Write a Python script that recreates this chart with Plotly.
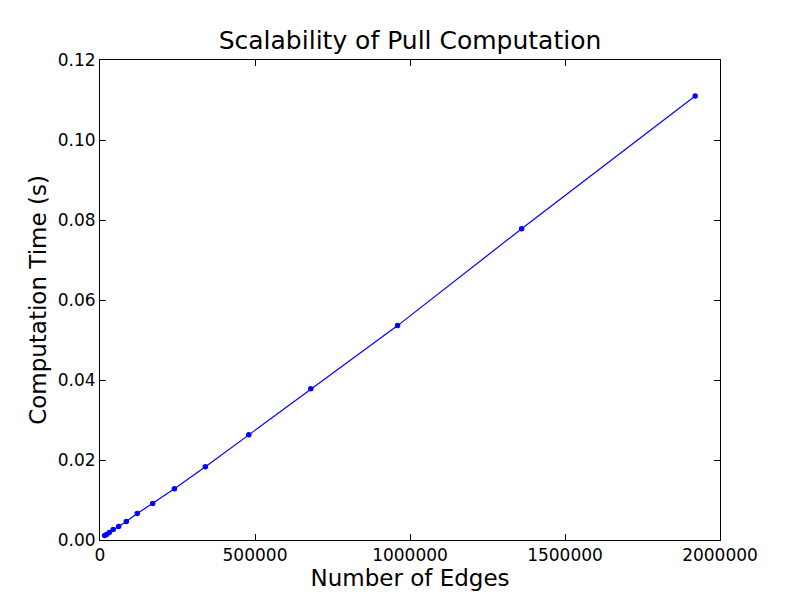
import plotly.graph_objects as go

# number of edges vs pull computation time
edges = [15000, 21250, 30000, 42500, 60000, 85000, 120000, 170000,
         240000, 340000, 480000, 680000, 960000, 1360000, 1920000]
comp_time = [0.0011, 0.0014, 0.0019, 0.0026, 0.0034, 0.0046, 0.0066, 0.0091,
             0.0128, 0.0183, 0.0263, 0.0378, 0.0536, 0.0778, 0.1110]

font_family = "DejaVu Sans"

fig = go.Figure()
fig.add_trace(go.Scatter(
    x=edges,
    y=comp_time,
    mode="lines+markers",
    line=dict(color="#0000ff", width=1.2),
    marker=dict(color="#0000ff", size=5.5),
    showlegend=False))

axis_style = dict(
    showgrid=False,
    zeroline=False,
    showline=True,
    linecolor="black",
    linewidth=1,
    mirror="ticks",
    ticks="inside",
    ticklen=6,
    tickcolor="black",
    automargin=False,
    tickfont=dict(family=font_family, size=17, color="black"),
)

fig.update_xaxes(range=[0, 2000000], dtick=500000, tickformat="d",
                 title=dict(text="Number of Edges",
                            font=dict(family=font_family, size=23, color="black"),
                            standoff=0),
                 **axis_style)
fig.update_yaxes(range=[0, 0.12], dtick=0.02, tickformat=".2f",
                 title=dict(text="Computation Time (s)",
                            font=dict(family=font_family, size=23, color="black"),
                            standoff=4),
                 **axis_style)

# the page body adds an 8px offset, margins compensate for it
fig.update_layout(
    width=800, height=600,
    margin=dict(l=92, r=88, t=52, b=68),
    paper_bgcolor="white",
    plot_bgcolor="white",
    title=dict(text="Scalability of Pull Computation",
               font=dict(family=font_family, size=25, color="black"),
               x=0.5, xref="paper", xanchor="center",
               y=1 - 32 / 600, yref="container", yanchor="middle",
               automargin=False),
)

fig.write_html("out.html")
